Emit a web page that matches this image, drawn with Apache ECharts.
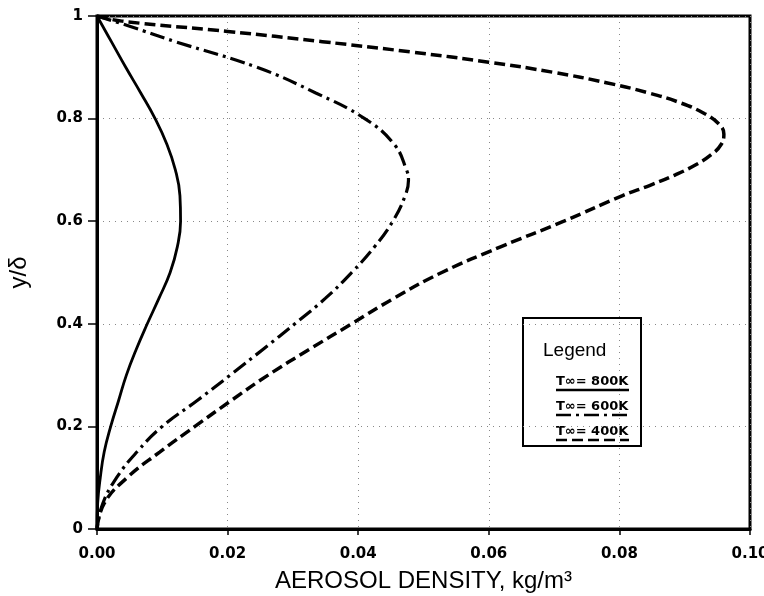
<!DOCTYPE html>
<html>
<head>
<meta charset="utf-8">
<script src="https://cdn.jsdelivr.net/npm/echarts@6/dist/echarts.min.js"></script>
<style>
  html, body { margin: 0; padding: 0; background: #fff; }
  #main { width: 764px; height: 596px; }
</style>
</head>
<body>
<div id="main"></div>
<script>
// curve data as [density, y/delta], top to bottom
var t800 = [[0, 1], [0.0022, 0.95], [0.0044, 0.90], [0.0067, 0.85], [0.0089, 0.80], [0.0107, 0.75],
	[0.0120, 0.70], [0.0127, 0.65], [0.0128, 0.60], [0.0123, 0.55], [0.0112, 0.50], [0.0095, 0.45],
	[0.0077, 0.40], [0.0060, 0.35], [0.0045, 0.30], [0.0033, 0.25], [0.0021, 0.20], [0.0011, 0.15],
	[0.0005, 0.10], [0.0001, 0.05], [0, 0]];

var t600 = [[0, 1], [0.0050, 0.98], [0.0120, 0.95], [0.0245, 0.90], [0.0335, 0.85], [0.0410, 0.80],
	[0.0455, 0.75], [0.0474, 0.70], [0.0477, 0.68], [0.0472, 0.65], [0.0453, 0.60], [0.0425, 0.55],
	[0.0390, 0.50], [0.0350, 0.45], [0.0303, 0.40], [0.0254, 0.35], [0.0204, 0.30], [0.0153, 0.25],
	[0.0100, 0.20], [0.0061, 0.15], [0.0030, 0.10], [0.0009, 0.05], [0, 0]];

var t400 = [[0, 1], [0.0038, 0.99], [0.0200, 0.97], [0.0345, 0.95], [0.0480, 0.93], [0.0600, 0.91],
	[0.0700, 0.89], [0.0780, 0.87], [0.0845, 0.85], [0.0895, 0.83], [0.0930, 0.81], [0.0952, 0.79],
	[0.0960, 0.77], [0.0956, 0.75], [0.0941, 0.73], [0.0917, 0.71], [0.0885, 0.69], [0.0847, 0.67],
	[0.0805, 0.65], [0.0715, 0.60], [0.0618, 0.55], [0.0528, 0.50], [0.0455, 0.45], [0.0390, 0.40],
	[0.0325, 0.35], [0.0262, 0.30], [0.0205, 0.25], [0.0150, 0.20], [0.0096, 0.15], [0.0046, 0.10],
	[0.0011, 0.05], [0, 0]];

var seriesNames = ['T∞= 800K', 'T∞= 600K', 'T∞= 400K'];

var xName = 'AEROSOL DENSITY, kg/m³';
var yName = 'y/δ';

var dashSolid = 'solid';
var dashDot = [15, 5, 3, 5];
var dashLong = [11, 5];

var tickFont = {
	color: '#000',
	fontFamily: 'DejaVu Sans',
	fontWeight: 'bold',
	fontSize: 15
};

var gridLine = {
	show: true,
	lineStyle: { color: '#888', width: 1, type: [1, 5] }
};

function makeLine(name, data, dash, w) {
	return {
		name: name,
		type: 'line',
		data: data,
		smooth: 0.45,
		symbol: 'none',
		lineStyle: { color: '#000', width: w, type: dash },
		z: 3
	};
}

// legend box drawn by hand, text above a sample line
var legendItems = [];
var dashes = [null, dashDot, dashLong];
for (var i = 0; i < seriesNames.length; i++) {
	legendItems.push({
		type: 'text',
		left: 33,
		top: 57 + i * 25,
		style: { text: seriesNames[i], fill: '#000', font: 'bold 13px DejaVu Sans' }
	});
	legendItems.push({
		type: 'line',
		shape: { x1: 33, y1: 72 + i * 25, x2: 106, y2: 72 + i * 25 },
		style: { stroke: '#000', lineWidth: 2.5, lineDash: dashes[i] }
	});
}

var option = {
	animation: false,
	backgroundColor: '#fff',
	grid: {
		left: 97,
		right: 14,
		top: 16,
		bottom: 67,
		outerBoundsMode: 'none',
		show: true,
		borderColor: '#000',
		borderWidth: 3
	},
	xAxis: {
		type: 'value',
		min: 0,
		max: 0.1,
		interval: 0.02,
		name: xName,
		nameLocation: 'middle',
		nameGap: 40,
		nameTextStyle: { color: '#000', fontFamily: 'Liberation Sans', fontSize: 24 },
		axisLine: { show: true, lineStyle: { color: '#000', width: 3 } },
		axisTick: { show: true, length: 6, lineStyle: { color: '#000', width: 1.5 } },
		axisLabel: Object.assign({ margin: 18, formatter: function (v) { return v.toFixed(2); } }, tickFont),
		splitLine: gridLine
	},
	yAxis: {
		type: 'value',
		min: 0,
		max: 1,
		interval: 0.2,
		name: yName,
		nameLocation: 'middle',
		nameGap: 66,
		nameTextStyle: { color: '#000', fontFamily: 'Liberation Sans', fontSize: 24 },
		axisLine: { show: true, lineStyle: { color: '#000', width: 3 } },
		axisTick: { show: true, length: 9, lineStyle: { color: '#000', width: 1.5 } },
		axisLabel: Object.assign({ margin: 14 }, tickFont),
		splitLine: gridLine
	},
	series: [
		makeLine(seriesNames[0], t800, dashSolid, 2.8),
		makeLine(seriesNames[1], t600, dashDot, 3.2),
		makeLine(seriesNames[2], t400, dashLong, 3.5)
	],
	graphic: [{
		type: 'group',
		left: 522,
		top: 317,
		z: 10,
		children: [{
			type: 'rect',
			shape: { x: 0, y: 0, width: 118, height: 128 },
			style: { fill: '#fff', stroke: '#000', lineWidth: 2 }
		}, {
			type: 'text',
			left: 20,
			top: 23,
			style: { text: 'Legend', fill: '#000', font: '19px Liberation Sans' }
		}].concat(legendItems)
	}]
};

var chart = echarts.init(document.getElementById('main'));
chart.setOption(option);
</script>
</body>
</html>
